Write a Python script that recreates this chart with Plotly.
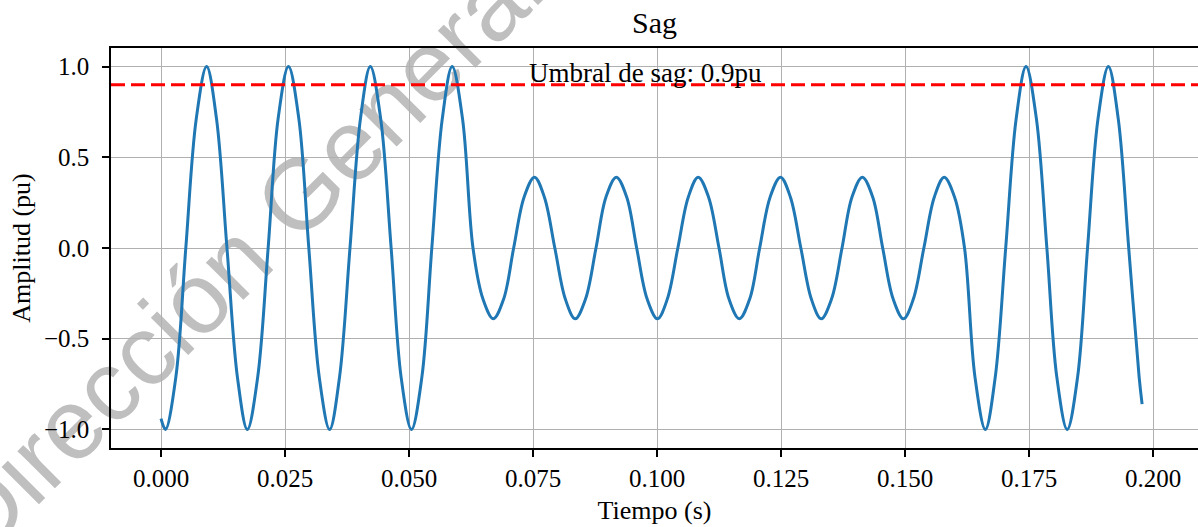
import plotly.graph_objects as go

# Voltage waveform (per-unit) with a sag in the middle cycles
tiempo = [
    0.0000,
    0.0009, 0.0030, 0.0050, 0.0071, 0.0092, 0.0112, 0.0133, 0.0154,
    0.0174, 0.0195, 0.0216, 0.0236, 0.0257, 0.0278, 0.0298, 0.0319,
    0.0340, 0.0360, 0.0381, 0.0402, 0.0422, 0.0443, 0.0464, 0.0484,
    0.0505, 0.0526, 0.0546, 0.0567, 0.0587, 0.0608, 0.0629, 0.0649,
    0.0670, 0.0691, 0.0711, 0.0732, 0.0753, 0.0773, 0.0794, 0.0815,
    0.0835, 0.0856, 0.0877, 0.0897, 0.0918, 0.0939, 0.0959, 0.0980,
    0.1001, 0.1021, 0.1042, 0.1063, 0.1083, 0.1104, 0.1125, 0.1145,
    0.1166, 0.1187, 0.1207, 0.1228, 0.1249, 0.1269, 0.1290, 0.1311,
    0.1331, 0.1352, 0.1373, 0.1393, 0.1414, 0.1435, 0.1455, 0.1476,
    0.1497, 0.1517, 0.1538, 0.1559, 0.1579, 0.1600, 0.1620, 0.1641,
    0.1662, 0.1682, 0.1703, 0.1724, 0.1744, 0.1765, 0.1786, 0.1806,
    0.1827, 0.1848, 0.1868, 0.1889, 0.1910, 0.1930, 0.1951, 0.1972,
    0.1978,
]
amplitud = [
    -0.94,
    -1.00, -0.71, 0.00, 0.71, 1.00, 0.71, 0.00, -0.71,
    -1.00, -0.71, 0.00, 0.71, 1.00, 0.71, 0.00, -0.71,
    -1.00, -0.71, 0.00, 0.71, 1.00, 0.71, 0.00, -0.71,
    -1.00, -0.71, 0.00, 0.71, 1.00, 0.71, 0.00, -0.28,
    -0.39, -0.28, 0.00, 0.28, 0.39, 0.28, 0.00, -0.28,
    -0.39, -0.28, 0.00, 0.28, 0.39, 0.28, 0.00, -0.28,
    -0.39, -0.28, 0.00, 0.28, 0.39, 0.28, 0.00, -0.28,
    -0.39, -0.28, 0.00, 0.28, 0.39, 0.28, 0.00, -0.28,
    -0.39, -0.28, 0.00, 0.28, 0.39, 0.28, 0.00, -0.28,
    -0.39, -0.28, 0.00, 0.28, 0.39, 0.28, 0.00, -0.71,
    -1.00, -0.71, 0.00, 0.71, 1.00, 0.71, 0.00, -0.71,
    -1.00, -0.71, 0.00, 0.71, 1.00, 0.71, 0.00, -0.71,
    -0.86,
]

umbral = 0.9

x_ticks = [0.0, 0.025, 0.05, 0.075, 0.1, 0.125, 0.15, 0.175, 0.2]
x_labels = ["0.000", "0.025", "0.050", "0.075", "0.100", "0.125", "0.150", "0.175", "0.200"]
y_ticks = [-1.0, -0.5, 0.0, 0.5, 1.0]
y_labels = ["\u22121.0", "\u22120.5", "0.0", "0.5", "1.0"]

SERIF = "Liberation Serif"

fig = go.Figure()

fig.add_trace(go.Scatter(
    x=tiempo, y=amplitud, mode="lines",
    line=dict(color="#1f77b4", width=3, shape="spline", smoothing=1.0),
    hoverinfo="skip",
))

# Threshold line
fig.add_hline(y=umbral, line=dict(color="#ff0000", width=3, dash="14px,6px"))

fig.add_annotation(
    x=0.0976, y=0.965, xref="x", yref="y",
    text=f"Umbral de sag: {umbral}pu", showarrow=False,
    xanchor="center", yanchor="middle",
    font=dict(family=SERIF, size=27, color="black"),
)

# Watermark drawn behind the data
fig.add_shape(
    type="line", xref="paper", yref="paper",
    x0=-0.081, y0=-0.025, x1=0.3091, y1=1.035,
    line=dict(color="rgba(0,0,0,0)", width=0),
    layer="below",
    label=dict(
        text="Dirección General", textangle=-45, textposition="middle",
        xanchor="center", yanchor="middle", padding=0,
        font=dict(family="Liberation Sans", size=100, color="#bfbfbf"),
    ),
)

axis_common = dict(
    showline=True, linecolor="black", linewidth=1.5,
    ticks="outside", ticklen=7, tickwidth=1.5, tickcolor="black",
    showgrid=True, gridcolor="#b0b0b0", gridwidth=1.3,
    zeroline=False,
    tickfont=dict(family=SERIF, size=25, color="black"),
)

fig.update_xaxes(
    range=[-0.01008, 0.20907], tickvals=x_ticks, ticktext=x_labels,
    mirror=True,
    title=dict(text="Tiempo (s)", font=dict(family=SERIF, size=26), standoff=10),
    **axis_common,
)
fig.update_yaxes(
    range=[-1.102, 1.102], tickvals=y_ticks, ticktext=y_labels,
    ticklabelstandoff=8,
    title=dict(text="Amplitud (pu)", font=dict(family=SERIF, size=26), standoff=6),
    **axis_common,
)

fig.update_layout(
    width=1198, height=527,
    margin=dict(l=111, r=0, t=48, b=79, autoexpand=False),
    paper_bgcolor="white", plot_bgcolor="rgba(0,0,0,0)",
    showlegend=False,
    font=dict(family=SERIF, size=26, color="black"),
    title=dict(
        text="Sag", x=0.5, xref="paper", xanchor="center",
        y=1 - 22 / 527, yref="container", yanchor="middle",
        font=dict(family=SERIF, size=30, color="black"),
    ),
)

fig.write_html("out.html")
